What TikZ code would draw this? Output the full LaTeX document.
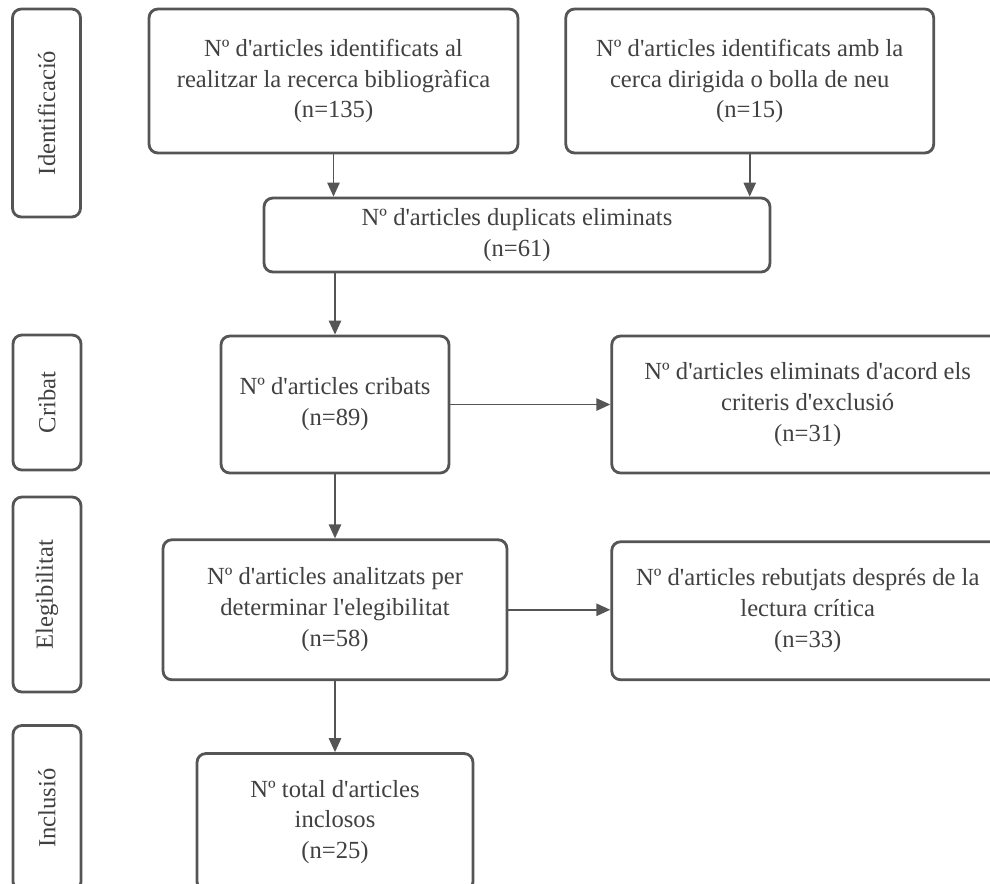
\documentclass[tikz,border=0pt]{standalone}
\usepackage{fontspec}
\setmainfont{Liberation Serif}[Ligatures=TeXOff]
\usetikzlibrary{arrows.meta, positioning}
\definecolor{edgegray}{RGB}{85,85,85}
\definecolor{textgray}{RGB}{65,65,65}
\tikzset{
  stepbox/.style={
    draw=edgegray, fill=white, line width=1.6pt,
    rounded corners=5pt, align=center, inner sep=2pt,
    font=\fontsize{14}{17.6}\selectfont\color{textgray}
  },
  phasebox/.style={
    draw=edgegray, fill=white, line width=1.6pt,
    rounded corners=5pt, minimum height=1.36cm,
    rotate=90, align=center,
    font=\fontsize{14}{17}\selectfont\color{textgray}
  },
  flowarrow/.style={
    -{Triangle[length=8pt,width=7pt]},
    draw=edgegray, line width=1.1pt
  },
}

\begin{document}
\begin{tikzpicture}[x=0.02cm, y=-0.02cm]

  \useasboundingbox (0,0) rectangle (990,883);
  \clip (0,0) rectangle (990,883);

  %% Phase labels
  \node[phasebox, minimum width=4.16cm] (lid) at (46.5,113) {Identificació};
  \node[phasebox, minimum width=2.70cm] (lcr) at (47,402.5) {Cribat};
  \node[phasebox, minimum width=3.90cm] (lel) at (47,594.5) {Elegibilitat};
  \node[phasebox, minimum width=3.30cm] (lin) at (47,808) {Inclusió};

  %% Identification
  \node[stepbox, minimum width=7.38cm, minimum height=2.88cm] (rec1) at (333.5,81)
    {Nº d'articles identificats al\\realitzar la recerca bibliogràfica\\(n=135)};
  \node[stepbox, minimum width=7.36cm, minimum height=2.88cm,
        right=0.9cm of rec1] (rec2)
    {Nº d'articles identificats amb la\\cerca dirigida o bolla de neu\\(n=15)};
  \node[stepbox, minimum width=10.12cm, minimum height=1.48cm] (dup) at (517,235)
    {Nº d'articles duplicats eliminats\\(n=61)};

  \draw[flowarrow] (rec1.south) -- (rec1.south |- dup.north);
  \draw[flowarrow] (rec2.south) -- (rec2.south |- dup.north);

  %% Screening
  \node[stepbox, minimum width=4.56cm, minimum height=2.74cm] (crib) at (335,404.5)
    {Nº d'articles cribats\\(n=89)};
  \node[stepbox, minimum width=7.84cm, minimum height=2.74cm,
        right=3.2cm of crib] (excl)
    {Nº d'articles eliminats d'acord els\\criteris d'exclusió\\(n=31)};

  \draw[flowarrow] (crib.north |- dup.south) -- (crib.north);
  \draw[flowarrow] (crib.east) -- (excl.west);

  %% Eligibility
  \node[stepbox, minimum width=6.88cm, minimum height=2.80cm,
        below=1.28cm of crib] (anal)
    {Nº d'articles analitzats per\\determinar l'elegibilitat\\(n=58)};
  \node[stepbox, minimum width=7.84cm, minimum height=2.76cm,
        below=1.32cm of excl] (rebut)
    {Nº d'articles rebutjats després de la\\lectura crítica\\(n=33)};

  \draw[flowarrow] (crib.south) -- (anal.north);
  \draw[flowarrow] (anal.east) -- (anal.east -| rebut.west);

  %% Inclusion
  \node[stepbox, minimum width=5.52cm, minimum height=2.74cm,
        below=1.42cm of anal] (total)
    {Nº total d'articles\\inclosos\\(n=25)};

  \draw[flowarrow] (anal.south) -- (total.north);

\end{tikzpicture}
\end{document}
